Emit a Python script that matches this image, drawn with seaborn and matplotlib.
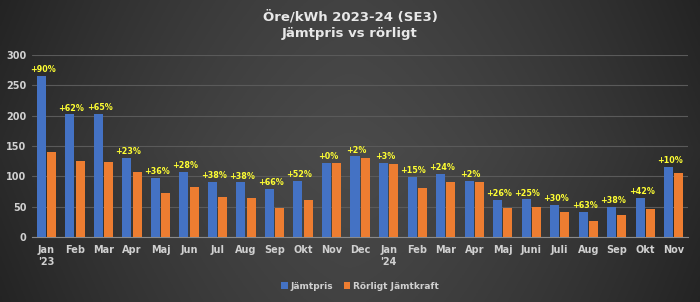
import numpy as np
import pandas as pd
import matplotlib
matplotlib.use("Agg")
import matplotlib.pyplot as plt
import seaborn as sns

months = ["Jan\n'23", "Feb", "Mar", "Apr", "Maj", "Jun", "Jul", "Aug", "Sep", "Okt", "Nov",
          "Dec", "Jan\n'24", "Feb", "Mar", "Apr", "Maj", "Juni", "Juli", "Aug", "Sep", "Okt", "Nov"]
jamtpris = [265, 202, 203, 131, 98, 107, 91, 90, 80, 92, 122,
            133, 122, 99, 104, 92, 61, 62, 53, 41, 50, 65, 116]
rorligt = [140, 126, 123, 107, 72, 83, 66, 65, 48, 61, 122,
           130, 120, 81, 91, 90, 48, 50, 41, 26, 37, 46, 106]
diff_labels = ["+90%", "+62%", "+65%", "+23%", "+36%", "+28%", "+38%", "+38%", "+66%", "+52%", "+0%",
               "+2%", "+3%", "+15%", "+24%", "+2%", "+26%", "+25%", "+30%", "+63%", "+38%", "+42%", "+10%"]

n = len(months)
pos = [str(i) for i in range(n)]
df = pd.DataFrame({
    "pos": pos * 2,
    "value": jamtpris + rorligt,
    "serie": ["Jämtpris"] * n + ["Rörligt Jämtkraft"] * n,
})

sns.set_style("dark")
plt.rcParams["font.family"] = ["DejaVu Sans"]

fig = plt.figure(figsize=(7, 3.02), dpi=100)

# background gradient (lighter in the middle)
bg = fig.add_axes([0, 0, 1, 1], zorder=-10)
xs = np.linspace(-1, 1, 400)
ys = np.linspace(-1, 1, 200)
X, Y = np.meshgrid(xs, ys)
shade = 0.29 - 0.12 * np.abs(X) ** 1.5 - 0.03 * np.abs(Y)
bg.imshow(np.dstack([shade] * 3), aspect="auto", extent=[0, 1, 0, 1])
bg.axis("off")

ax = fig.add_axes([0.046, 0.215, 0.937, 0.603])
ax.patch.set_alpha(0)
sns.barplot(data=df, x="pos", y="value", hue="serie", order=pos,
            palette=["#4472C4", "#ED7D31"], saturation=1, width=0.72, gap=0.12,
            linewidth=0, ax=ax, zorder=3)

ax.set_ylim(0, 300)
ax.set_xlim(-0.5, n - 0.5)
ax.set_yticks(range(0, 301, 50))
ax.grid(axis="y", color="#5a5a5a", linewidth=0.8, zorder=0)
ax.grid(axis="x", visible=False)
for s in ["top", "right", "left"]:
    ax.spines[s].set_visible(False)
ax.spines["bottom"].set_color("#8a8a8a")
ax.spines["bottom"].set_linewidth(0.8)
ax.set_xticks(range(n))
ax.set_xticklabels(months)
ax.tick_params(axis="both", colors="#d0d0d0", labelsize=7, length=0, pad=6)
ax.tick_params(axis="y", pad=4)
for lab in ax.get_xticklabels() + ax.get_yticklabels():
    lab.set_fontweight("bold")
    lab.set_color("#d0d0d0")
ax.set_xlabel("")
ax.set_ylabel("")

bars = ax.containers[0]
for rect, txt in zip(bars, diff_labels):
    ax.text(rect.get_x() + rect.get_width() / 2 + 0.05, rect.get_height() + 3, txt,
            ha="center", va="bottom", fontsize=5.8, fontweight="bold", color="#ffff33", zorder=5)

leg = ax.legend(loc="upper center", bbox_to_anchor=(0.5, -0.2), ncol=2, frameon=False,
                fontsize=6.5, handlelength=0.7, handleheight=0.7, handletextpad=0.3, columnspacing=1.2)
for t in leg.get_texts():
    t.set_color("#d0d0d0")
    t.set_fontweight("bold")

fig.text(0.5, 0.945, "Öre/kWh 2023-24 (SE3)", ha="center", va="center",
         fontsize=9.5, fontweight="bold", color="#e8e8e8")
fig.text(0.5, 0.89, "Jämtpris vs rörligt", ha="center", va="center",
         fontsize=9.5, fontweight="bold", color="#e8e8e8")

fig.savefig("out.png", dpi=100)
